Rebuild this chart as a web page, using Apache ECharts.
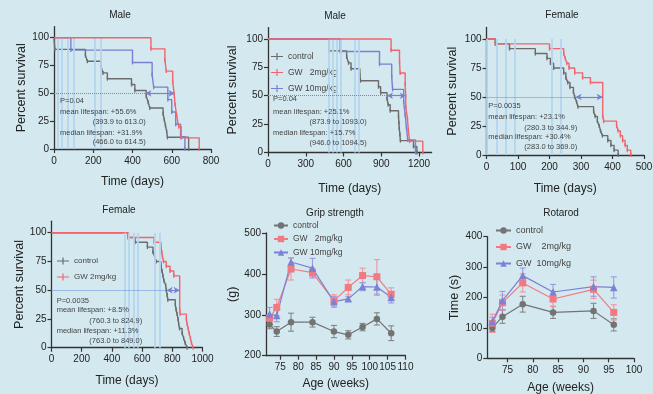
<!DOCTYPE html>
<html><head><meta charset="utf-8">
<script src="https://cdn.jsdelivr.net/npm/echarts@6/dist/echarts.min.js"></script>
<style>html,body{margin:0;padding:0;background:#d3e9ef;}#c{width:653px;height:394px;}</style>
</head><body><div id="c"></div>
<script>
// ---------- Survival data (time in days, percent survival) ----------
// Panel 1: Male (0-800 days)
const m1CtrlT = [0, 4, 160, 170, 240, 250, 272, 395, 412, 470, 480, 488, 556, 562, 568, 574, 578, 686];
const m1CtrlS = [100, 89.5, 84.2, 78.9, 73.7, 68.4, 63.2, 57.9, 52.6, 47.4, 42.1, 36.8, 31.6, 26.3, 21.1, 15.8, 10.5, 0];
const m1Gw2T = [0, 494, 565, 572, 605, 612, 617, 625, 635, 648, 740];
const m1Gw2S = [100, 90, 80, 70, 60, 50, 40, 30, 20, 10, 0];
const m1Gw10T = [0, 86, 400, 500, 508, 580, 600, 620, 645, 667];
const m1Gw10S = [100, 88.9, 77.8, 66.7, 55.6, 44.4, 33.3, 22.2, 11.1, 0];
const m1Lines = [17, 42, 70, 100, 208, 238];
const m1Medians = [466.0, 614.5];
const m1Text = ['P=0.04', 'mean lifespan: +55.6%', '(393.9 to 613.0)', 'median lifespan: +31.9%', '(466.0 to 614.5)'];

// Panel 2: Male (0-1300 days)
const m2CtrlT = [0, 485, 625, 640, 660, 730, 735, 878, 895, 946, 955, 971, 1037, 1040, 1043, 1048, 1052, 1156, 1183];
const m2CtrlS = [100, 89.5, 84.2, 78.9, 73.7, 68.4, 63.2, 57.9, 52.6, 47.4, 42.1, 36.8, 31.6, 26.3, 21.1, 15.8, 10.5, 5.3, 0];
const m2Gw2T = [0, 978, 1045, 1050, 1090, 1094, 1095, 1108, 1115, 1125, 1230];
const m2Gw2S = [100, 90, 80, 70, 60, 50, 40, 30, 20, 10, 0];
const m2Gw10T = [0, 574, 886, 983, 990, 1078, 1090, 1100, 1110, 1172];
const m2Gw10S = [100, 88.9, 77.8, 66.7, 55.6, 44.4, 33.3, 22.2, 11.1, 0];
const m2Lines = [485, 515, 545, 575, 690, 720];
const m2Medians = [946.0, 1094.5];
const m2Text = ['P=0.04', 'mean lifespan: +25.1%', '(873.9 to 1093.0)', 'median lifespan: +15.7%', '(946.0 to 1094.5)'];

// Panel 3: Female (0-500 days)
const f1CtrlT = [0, 28, 73, 155, 192, 203, 213, 245, 252, 258, 265, 276, 280, 286, 290, 340, 345, 352, 358, 362, 368, 385, 395, 405, 418];
const f1CtrlS = [100, 95.8, 91.7, 87.5, 83.3, 79.2, 75, 70.8, 66.7, 62.5, 58.3, 54.2, 50, 45.8, 41.7, 37.5, 33.3, 29.2, 25, 20.8, 16.7, 12.5, 8.3, 4.2, 0];
const f1Gw2T = [0, 28, 200, 245, 250, 255, 262, 280, 305, 330, 369, 372, 413, 418, 425, 432, 440, 447, 458];
const f1Gw2S = [100, 95.8, 91.7, 87.5, 83.3, 79.2, 75, 70.8, 66.7, 62.5, 33.3, 29.2, 25, 20.8, 16.7, 12.5, 8.3, 4.2, 0];
const f1Lines = [2, 33, 62, 90, 207, 237];
const f1Medians = [283.0, 369.0];
const f1Text = ['P=0.0035', 'mean lifespan: +23.1%', '(280.3 to 344.9)', 'median lifespan: +30.4%', '(283.0 to 369.0)'];

// Panel 4: Female (age, 0-1000 days)
const f2CtrlT = [0, 508, 553, 635, 672, 683, 693, 725, 732, 738, 745, 756, 760, 766, 770, 820, 825, 832, 838, 842, 848, 865, 875, 885, 898];
const f2CtrlS = [100, 95.8, 91.7, 87.5, 83.3, 79.2, 75, 70.8, 66.7, 62.5, 58.3, 54.2, 50, 45.8, 41.7, 37.5, 33.3, 29.2, 25, 20.8, 16.7, 12.5, 8.3, 4.2, 0];
const f2Gw2T = [0, 508, 680, 725, 730, 735, 742, 760, 785, 810, 849, 852, 893, 898, 905, 912, 920, 927, 938];
const f2Gw2S = [100, 95.8, 91.7, 87.5, 83.3, 79.2, 75, 70.8, 66.7, 62.5, 33.3, 29.2, 25, 20.8, 16.7, 12.5, 8.3, 4.2, 0];
const f2Lines = [482, 513, 542, 570, 687, 717];
const f2Medians = [763.0, 849.0];
const f2Text = ['P=0.0035', 'mean lifespan: +8.5%', '(760.3 to 824.9)', 'median lifespan: +11.3%', '(763.0 to 849.0)'];

// ---------- Grip strength (g) ----------
const gripWeeks = [72, 74, 78, 84, 90, 94, 98, 102, 106];
const gripCtrl = [276, 259, 282, 282, 259, 251, 270, 290, 255];
const gripCtrlErr = [10, 12, 22, 12, 15, 10, 9, 15, 18];
const gripGw2 = [292, 318, 412, 403, 334, 367, 396, 393, 350];
const gripGw2Err = [8, 20, 27, 10, 15, 18, 18, 42, 16];
const gripGw10 = [302, 298, 429, 414, 332, 339, 369, 368, 343];
const gripGw10Err = [16, 15, 10, 24, 13, 5, 10, 20, 14];

// ---------- Rotarod (s) ----------
const rotWeeks = [72, 74, 78, 84, 92, 96];
const rotCtrl = [100, 137, 178, 151, 156, 110];
const rotCtrlErr = [12, 22, 26, 20, 25, 20];
const rotGw2 = [115, 183, 248, 195, 227, 151];
const rotGw2Err = [30, 25, 30, 25, 30, 25];
const rotGw10 = [120, 190, 272, 218, 236, 233];
const rotGw10Err = [15, 30, 25, 25, 32, 35];

// ---------- Tick labels ----------
const survTicks = [0, 25, 50, 75, 100];
const m1XTicks = [0, 200, 400, 600, 800];
const m2XTicks = [0, 300, 600, 900, 1200];
const f1XTicks = [0, 100, 200, 300, 400, 500];
const f2XTicks = [0, 200, 400, 600, 800, 1000];
const gripXTicks = [75, 80, 85, 90, 95, 100, 105, 110];
const gripYTicks = [200, 300, 400, 500];
const rotXTicks = [75, 80, 85, 90, 95, 100];
const rotYTicks = [0, 100, 200, 300, 400];

const LBL = {p2c:'control', p2r:'GW   2mg/kg', p2b:'GW 10mg/kg', p4c:'control', p4r:'GW 2mg/kg',
  p5c:'control', p5r:'GW   2mg/kg', p5b:'GW 10mg/kg', p6c:'control', p6r:'GW    2mg/kg', p6b:'GW  10mg/kg'};

// ---------- Build ----------
const FONT = '"Liberation Sans", Arial, sans-serif';
const NARROW = '"Liberation Sans Narrow", "Arial Narrow", "Liberation Sans", sans-serif';
const C_GRAY = '#6c6c6c', C_RED = '#f2646d', C_BLUE = '#7a7fd1';
const AX = '#333';

function pairs(T, S) { return T.map((t, i) => i === 0 ? {value:[t, S[i]], symbol:'none'} : [t, S[i]]); }
function pts(X, Y) { return X.map((x, i) => [x, Y[i]]); }

const grids = [
  {left:54, top:26.6, width:157, height:122.4},
  {left:268, top:27.6, width:163.6, height:124.9},
  {left:486.5, top:27.4, width:157.5, height:127.6},
  {left:51.5, top:221.2, width:151, height:126.5},
  {left:266, top:233, width:139.5, height:122.7},
  {left:487.3, top:236.7, width:146.7, height:121.6}
].map(g => Object.assign({outerBoundsMode:'none', containLabel:false, show:false}, g));

function xAx(gi, min, max, ticks, name, gap) {
  return {type:'value', gridIndex:gi, min, max, name, nameLocation:'middle', nameGap:gap,
    nameTextStyle:{fontFamily:FONT, fontSize:12, color:'#222'},
    axisLine:{show:true, lineStyle:{color:AX, width:1.3}},
    axisTick:{show:true, length:4, lineStyle:{color:AX, width:1.2}, customValues:ticks},
    axisLabel:{customValues:ticks, formatter:v => String(v), fontFamily:FONT, fontSize:10, color:'#222', margin:7},
    splitLine:{show:false}};
}
function yAx(gi, min, max, ticks, name, gap) {
  return {type:'value', gridIndex:gi, min, max, name, nameLocation:'middle', nameGap:gap,
    nameTextStyle:{fontFamily:FONT, fontSize:12.5, color:'#222'},
    axisLine:{show:true, lineStyle:{color:AX, width:1.3}},
    axisTick:{show:true, length:4, lineStyle:{color:AX, width:1.2}, customValues:ticks},
    axisLabel:{customValues:ticks, formatter:v => String(v), fontFamily:FONT, fontSize:10, color:'#222', margin:5},
    splitLine:{show:false}};
}

function surv(name, gi, T, S, color, z) {
  return {type:'line', name, xAxisIndex:gi, yAxisIndex:gi, data:pairs(T, S), step:'end',
    symbol:'rect', symbolSize:[1.3, 4], showAllSymbol:true, animation:false, silent:true,
    lineStyle:{color, width:1.4}, itemStyle:{color}, z};
}
function marks(gi, verts, med) {
  return [
    {type:'line', xAxisIndex:gi, yAxisIndex:gi, data:[], z:1, silent:true, animation:false,
      markLine:{silent:true, symbol:'none', label:{show:false}, animation:false,
        lineStyle:{color:'#b4d5ef', width:1.8, type:'solid'},
        data: verts.map(v => [{coord:[v, 0]}, {coord:[v, 100]}])}},
    {type:'line', xAxisIndex:gi, yAxisIndex:gi, data:[], z:6, silent:true, animation:false,
      markLine:{silent:true, symbol:'none', label:{show:false}, animation:false,
        data:[
          [{coord:[0, 50], lineStyle:{color:'#5d8ddb', width:1, type:'dotted'}}, {coord:[med[0], 50]}],
          [{coord:[med[0], 50], symbol:'arrow', symbolSize:[5, 6], lineStyle:{color:'#7b7fd0', width:1.2, type:'solid'}},
           {coord:[med[1], 50], symbol:'arrow', symbolSize:[5, 6]}]
        ]}}
  ];
}
function meanLine(name, gi, X, Y, color, symbol, size) {
  return {type:'line', name, xAxisIndex:gi, yAxisIndex:gi, data:pts(X, Y), symbol, symbolSize:size,
    lineStyle:{color, width:1.2}, itemStyle:{color}, z:4, animation:false, silent:true};
}
function errBars(gi, X, Y, E, color) {
  return {type:'custom', xAxisIndex:gi, yAxisIndex:gi, z:3, silent:true, animation:false,
    data: X.map((x, i) => [x, Y[i] - E[i], Y[i] + E[i]]),
    encode:{x:0, y:[1, 2]},
    renderItem(params, api) {
      const x = api.value(0);
      const lo = api.coord([x, api.value(1)]);
      const hi = api.coord([x, api.value(2)]);
      const w = 3;
      const st = {stroke:color, lineWidth:1.1};
      return {type:'group', children:[
        {type:'line', shape:{x1:lo[0], y1:lo[1], x2:hi[0], y2:hi[1]}, style:st},
        {type:'line', shape:{x1:hi[0]-w, y1:hi[1], x2:hi[0]+w, y2:hi[1]}, style:st},
        {type:'line', shape:{x1:lo[0]-w, y1:lo[1], x2:lo[0]+w, y2:lo[1]}, style:st}
      ]};
    }};
}

function txt(x, y, text, size, font, align, color) {
  return {type:'text', x, y, silent:true, z:100,
    style:{text, fill:color || '#444', font:size + 'px ' + (font || FONT), align:align || 'left', verticalAlign:'middle'}};
}
function annot(x, y, xi, texts) {
  return [
    txt(x, y[0], texts[0], 7.5, NARROW),
    txt(x, y[1], texts[1], 7.5, NARROW),
    txt(xi, y[2], texts[2], 7.5, NARROW),
    txt(x, y[3], texts[3], 7.5, NARROW),
    txt(xi, y[4], texts[4], 7.5, NARROW)
  ];
}

const survIcon = 'path://M0,4.4L12,4.4L12,5.6L0,5.6Z M5.4,1.5L6.6,1.5L6.6,8.5L5.4,8.5Z';
function leg(names, left, top, iw, gap, fs, icon) {
  const l = {data:names, left, top, orient:'vertical', itemWidth:iw, itemHeight:8, itemGap:gap, padding:0,
    selectedMode:false, formatter:n => LBL[n],
    textStyle:{fontSize:fs, fontFamily:FONT, color:'#444'}};
  if (icon) l.icon = icon;
  return l;
}

const series = [].concat(
  marks(0, m1Lines, m1Medians),
  [surv('m1c', 0, m1CtrlT, m1CtrlS, C_GRAY, 3), surv('m1b', 0, m1Gw10T, m1Gw10S, C_BLUE, 4), surv('m1r', 0, m1Gw2T, m1Gw2S, C_RED, 5)],
  marks(1, m2Lines, m2Medians),
  [surv('p2c', 1, m2CtrlT, m2CtrlS, C_GRAY, 3), surv('p2b', 1, m2Gw10T, m2Gw10S, C_BLUE, 4), surv('p2r', 1, m2Gw2T, m2Gw2S, C_RED, 5)],
  marks(2, f1Lines, f1Medians),
  [surv('f1c', 2, f1CtrlT, f1CtrlS, C_GRAY, 3), surv('f1r', 2, f1Gw2T, f1Gw2S, C_RED, 4)],
  marks(3, f2Lines, f2Medians),
  [surv('p4c', 3, f2CtrlT, f2CtrlS, C_GRAY, 3), surv('p4r', 3, f2Gw2T, f2Gw2S, C_RED, 4)],
  [errBars(4, gripWeeks, gripCtrl, gripCtrlErr, '#858585'),
   errBars(4, gripWeeks, gripGw2, gripGw2Err, '#f4939a'),
   errBars(4, gripWeeks, gripGw10, gripGw10Err, '#979be0'),
   meanLine('p5c', 4, gripWeeks, gripCtrl, '#737373', 'circle', 6.5),
   meanLine('p5r', 4, gripWeeks, gripGw2, '#f27982', 'rect', 7),
   meanLine('p5b', 4, gripWeeks, gripGw10, '#7c81d4', 'triangle', 7.5)],
  [errBars(5, rotWeeks, rotCtrl, rotCtrlErr, '#858585'),
   errBars(5, rotWeeks, rotGw2, rotGw2Err, '#f4939a'),
   errBars(5, rotWeeks, rotGw10, rotGw10Err, '#979be0'),
   meanLine('p6c', 5, rotWeeks, rotCtrl, '#737373', 'circle', 6.5),
   meanLine('p6r', 5, rotWeeks, rotGw2, '#f27982', 'rect', 7),
   meanLine('p6b', 5, rotWeeks, rotGw10, '#7c81d4', 'triangle', 7.5)]
);

const graphics = [].concat(
  [txt(120, 15, 'Male', 10, FONT, 'center', '#222'),
   txt(335, 16, 'Male', 10, FONT, 'center', '#222'),
   txt(562, 15, 'Female', 10, FONT, 'center', '#222'),
   txt(119, 210, 'Female', 10, FONT, 'center', '#222'),
   txt(335, 213, 'Grip strength', 10, FONT, 'center', '#222'),
   txt(561, 213, 'Rotarod', 10, FONT, 'center', '#222')],
  annot(60, [101, 111.7, 122.3, 132.5, 142.3], 92.7, m1Text),
  annot(273, [99.3, 111.7, 122.3, 132.7, 142.7], 309.5, m2Text),
  annot(488.3, [106, 117.3, 127.7, 136.7, 146.7], 524.3, f1Text),
  annot(56.7, [301, 310.3, 320.7, 330.7, 340.7], 89.3, f2Text)
);

const option = {
  backgroundColor:'#d3e9ef',
  animation:false,
  grid: grids,
  xAxis: [
    xAx(0, 0, 800, m1XTicks, 'Time (days)', 26.7),
    xAx(1, 0, 1300, m2XTicks, 'Time (days)', 29.8),
    xAx(2, 0, 500, f1XTicks, 'Time (days)', 27.3),
    xAx(3, 0, 1000, f2XTicks, 'Time (days)', 27),
    xAx(4, 71, 110, gripXTicks, 'Age (weeks)', 21.6),
    xAx(5, 71, 100, rotXTicks, 'Age (weeks)', 23.4)
  ],
  yAxis: [
    yAx(0, 0, 110, survTicks, 'Percent survival', 21),
    yAx(1, 0, 110, survTicks, 'Percent survival', 29),
    yAx(2, 0, 110, survTicks, 'Percent survival', 27.8),
    yAx(3, 0, 110, survTicks, 'Percent survival', 24.8),
    yAx(4, 200, 500, gripYTicks, '(g)', 26.7),
    yAx(5, 0, 400, rotYTicks, 'Time (s)', 26.3)
  ],
  legend: [
    leg(['p2c', 'p2r', 'p2b'], 271, 52, 12, 7, 8.5, survIcon),
    leg(['p4c', 'p4r'], 57, 257, 12, 8, 8, survIcon),
    leg(['p5c', 'p5r', 'p5b'], 273, 221, 14, 4.5, 8.5),
    leg(['p6c', 'p6r', 'p6b'], 495, 226, 15, 7.5, 9)
  ],
  series,
  graphic: graphics
};

const chart = echarts.init(document.getElementById('c'), null, {renderer:'canvas'});
chart.setOption(option);
</script></body></html>
